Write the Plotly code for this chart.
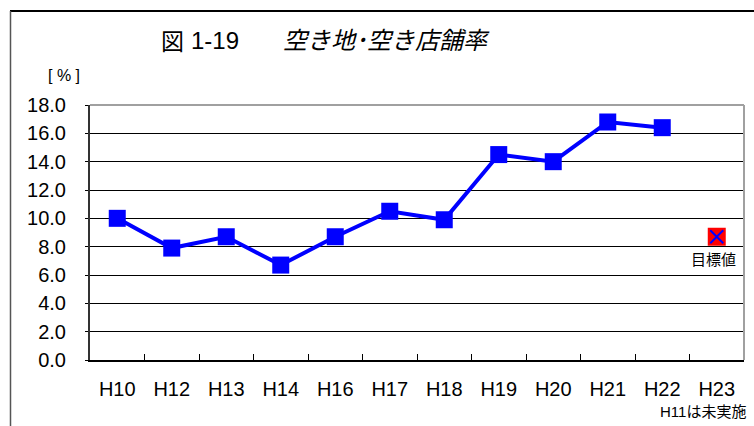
import plotly.graph_objects as go

categories = ["H10", "H12", "H13", "H14", "H16", "H17", "H18", "H19", "H20", "H21", "H22", "H23"]
rate_years = ["H10", "H12", "H13", "H14", "H16", "H17", "H18", "H19", "H20", "H21", "H22"]
rate_values = [10.0, 7.9, 8.7, 6.7, 8.7, 10.5, 9.9, 14.5, 14.0, 16.8, 16.4]
target_year = ["H23"]
target_value = [8.7]
y_ticks = [0, 2, 4, 6, 8, 10, 12, 14, 16, 18]

FONT = "Liberation Sans, Arial, Noto Sans CJK JP, sans-serif"
JFONT = "Liberation Sans, Noto Sans CJK JP, sans-serif"

fig = go.Figure()
fig.add_trace(go.Scatter(
    x=rate_years, y=rate_values, mode="lines+markers",
    line=dict(color="#0000ff", width=4),
    marker=dict(symbol="square", size=17, color="#0000ff"),
    showlegend=False, cliponaxis=False))
fig.add_trace(go.Scatter(
    x=target_year, y=target_value, mode="markers",
    marker=dict(symbol="square", size=18, color="#ff0000"),
    showlegend=False, cliponaxis=False))
fig.add_trace(go.Scatter(
    x=target_year, y=target_value, mode="markers",
    marker=dict(symbol="x-thin", size=13, color="#0000ff", line=dict(color="#0000ff", width=2)),
    showlegend=False, cliponaxis=False))

L, R, T, B = 90, 10, 105, 66
W, H = 754, 426
pw, ph = W - L - R, H - T - B

def px(x):
    return (x - L) / pw

def py(y):
    return (H - B - y) / ph

fig.update_layout(
    width=W, height=H,
    margin=dict(l=L, r=R, t=T, b=B),
    paper_bgcolor="white", plot_bgcolor="white",
    font=dict(family=FONT, color="#000000"),
    xaxis=dict(
        type="category", categoryorder="array", categoryarray=categories,
        range=[-0.5, len(categories) - 0.5],
        showgrid=False, zeroline=False,
        showline=True, linecolor="#000000", linewidth=2,
        ticks="inside", tickson="boundaries", ticklen=6, tickcolor="#000000", tickwidth=1,
        tickfont=dict(size=20, family=FONT), ticklabelstandoff=10,
    ),
    yaxis=dict(
        range=[0, 18], tickvals=y_ticks, tickformat=".1f",
        showgrid=True, gridcolor="#000000", gridwidth=1,
        zeroline=False,
        showline=True, linecolor="#333333", linewidth=2,
        ticks="outside", ticklen=3, tickcolor="#000000",
        tickfont=dict(size=20, family=FONT), ticklabelstandoff=15,
    ),
    shapes=[
        dict(type="line", xref="paper", yref="paper", x0=0, x1=1, y0=1, y1=1,
             line=dict(color="#a0a0a0", width=2)),
        dict(type="line", xref="paper", yref="paper", x0=1, x1=1, y0=0, y1=1,
             line=dict(color="#a0a0a0", width=2)),
        dict(type="line", xref="paper", yref="paper", x0=px(10), x1=px(760), y0=py(11), y1=py(11),
             line=dict(color="#000000", width=2)),
        dict(type="line", xref="paper", yref="paper", x0=px(10.5), x1=px(10.5), y0=py(11), y1=py(430),
             line=dict(color="#555555", width=1.5)),
    ],
    annotations=[
        dict(text="図", xref="paper", yref="paper", x=px(159), y=py(40),
             xanchor="left", yanchor="middle", showarrow=False,
             font=dict(size=23, family="Noto Sans CJK JP")),
        dict(text="1-19", xref="paper", yref="paper", x=px(189), y=py(40),
             xanchor="left", yanchor="middle", showarrow=False,
             font=dict(size=24, family=FONT)),
        dict(text="<i>空き地･空き店舗率</i>", xref="paper", yref="paper", x=px(281), y=py(40),
             xanchor="left", yanchor="middle", showarrow=False,
             font=dict(size=24, family=JFONT)),
        dict(text="[ % ]", xref="paper", yref="paper", x=px(64), y=py(76),
             xanchor="center", yanchor="middle", showarrow=False,
             font=dict(size=16, family=FONT)),
        dict(text="目標値", xref="paper", yref="paper", x=px(738), y=py(259),
             xanchor="right", yanchor="middle", showarrow=False,
             font=dict(size=15, family=JFONT)),
        dict(text="H11は未実施", xref="paper", yref="paper", x=px(748), y=py(411),
             xanchor="right", yanchor="middle", showarrow=False,
             font=dict(size=15, family=JFONT)),
    ],
)

fig.write_html("out.html", config={"displayModeBar": False},
               post_script="document.body.style.margin='0px';document.body.style.overflow='hidden';")
